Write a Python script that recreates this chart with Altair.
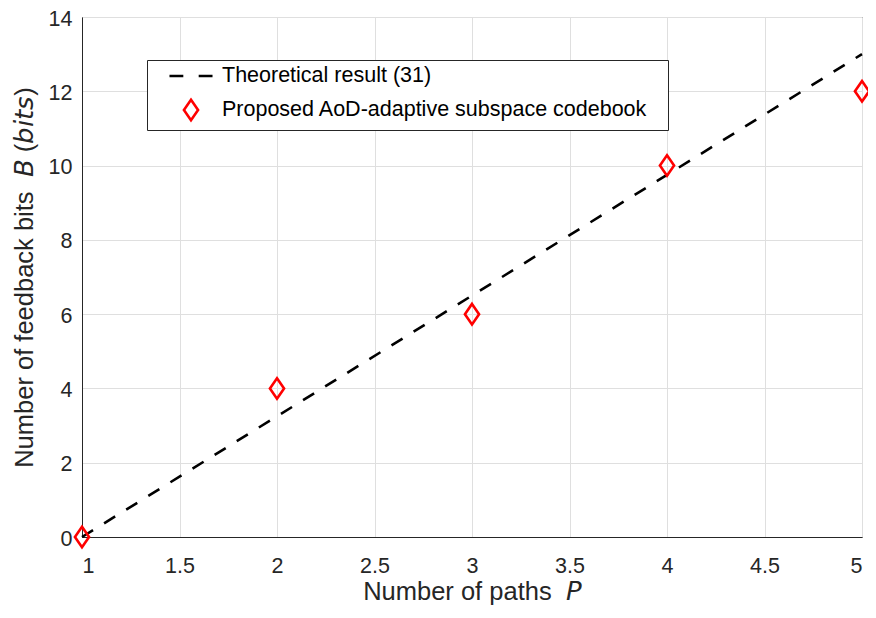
import altair as alt
import pandas as pd

# ---- data ----
paths = [1, 2, 3, 4, 5]
theory_bits = [0.0, 3.25, 6.5, 9.75, 13.0]
proposed_bits = [0, 4, 6, 10, 12]
series_names = ["Theoretical result (31)", "Proposed AoD-adaptive subspace codebook"]
x_ticks = [1, 1.5, 2, 2.5, 3, 3.5, 4, 4.5, 5]
y_ticks = [0, 2, 4, 6, 8, 10, 12, 14]

NB = "\u00a0"
x_title = "Number of paths" + NB * 2 + "\U0001D617"
y_title = ("Number of feedback bits" + NB * 2 + "\U0001D609" + NB
           + "(\U0001D623\U0001D62A\U0001D635\U0001D634)")

theory_df = pd.DataFrame({"P": paths, "B": theory_bits, "series": series_names[0]})
prop_df = pd.DataFrame({"P": paths, "B": proposed_bits, "series": series_names[1]})

FONT = "Liberation Sans"
FS = 21.5
TFS = 25.5
DARK = "#262626"
MSIZE = 420

DASH_SYMBOL = "M-2.1,0H-0.75M0.75,0H2.1"
DIAMOND = "M0,-1L0.69,0L0,1L-0.69,0Z"

x_enc = alt.X(
    "P:Q",
    scale=alt.Scale(domain=[1, 5], nice=False),
    axis=alt.Axis(values=x_ticks, format="~g", title=x_title,
                  labelPadding=18, titlePadding=3),
)
y_enc = alt.Y(
    "B:Q",
    scale=alt.Scale(domain=[0, 14], nice=False),
    axis=alt.Axis(values=y_ticks, format="d", title=y_title,
                  labelPadding=10, titlePadding=11, labelOffset=2),
)

legend_kw = dict(
    title=None, orient="none", legendX=65, legendY=43,
    padding=4, strokeColor=DARK, fillColor="white",
    labelFont=FONT, labelFontSize=FS, labelColor="black", labelLimit=700,
    labelExpr="datum.label + '\u2800'",
    symbolSize=MSIZE, symbolStrokeWidth=2.6, symbolOffset=28,
    labelOffset=19, rowPadding=7,
)

line = alt.Chart(theory_df).mark_line(
    color="black", strokeDash=[13, 13], strokeWidth=2.6
).encode(x=x_enc, y=y_enc)

points = alt.Chart(prop_df).mark_point(
    filled=False, strokeWidth=2.6, size=MSIZE, opacity=1
).encode(
    x=x_enc,
    y=y_enc,
    color=alt.Color(
        "series:N",
        scale=alt.Scale(domain=series_names, range=["black", "red"]),
        legend=alt.Legend(**legend_kw),
    ),
    shape=alt.Shape(
        "series:N",
        scale=alt.Scale(domain=series_names, range=[DASH_SYMBOL, DIAMOND]),
        legend=alt.Legend(**legend_kw),
    ),
)

chart = alt.layer(line, points).properties(
    width=780, height=520,
    autosize=alt.AutoSizeParams(type="none"),
    padding={"left": 74, "top": 9, "right": 6, "bottom": 73},
).configure_view(
    stroke=DARK, strokeWidth=1
).configure_axis(
    gridColor="#dfdfdf", gridWidth=1, domainColor=DARK, domainWidth=1,
    ticks=False, labelFont=FONT, labelFontSize=FS, labelColor=DARK,
    titleFont=FONT, titleFontSize=TFS, titleColor=DARK, titleFontWeight="normal",
)

chart.save("out.html", embed_options={"renderer": "svg", "actions": False})
